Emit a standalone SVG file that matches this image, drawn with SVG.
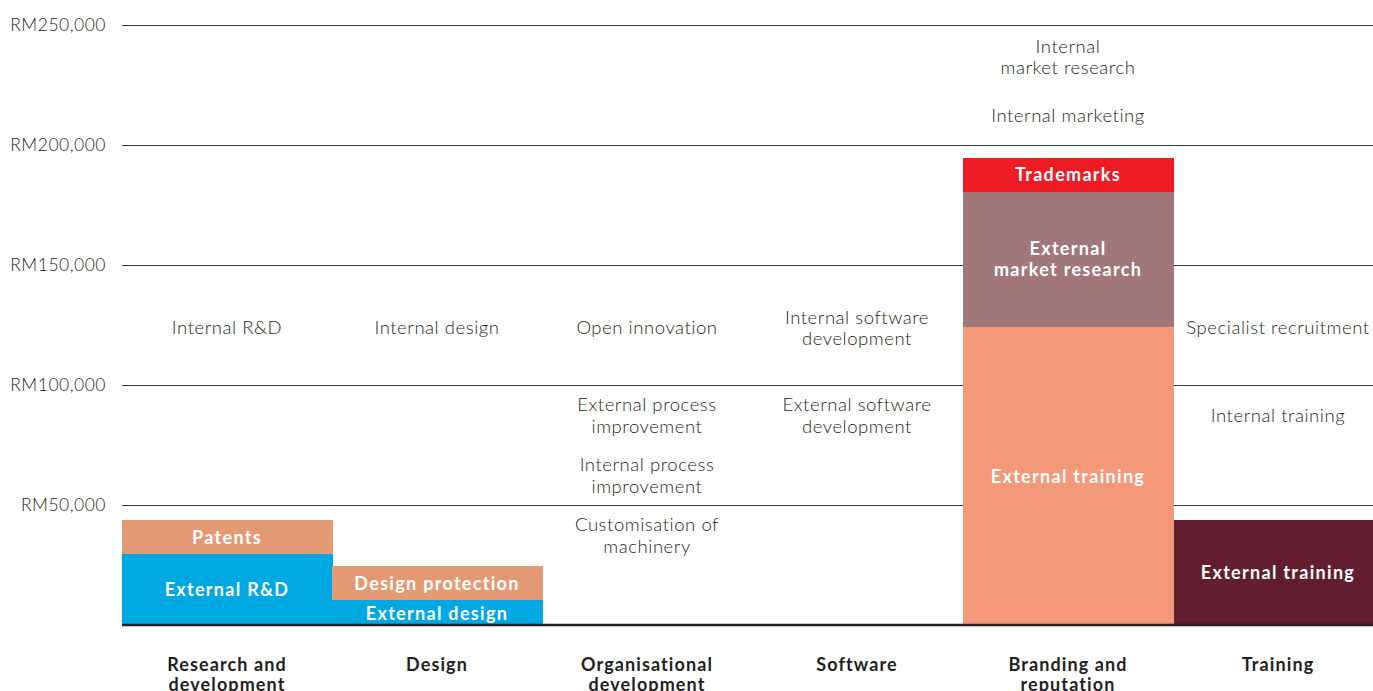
<svg xmlns="http://www.w3.org/2000/svg" width="1373" height="691" viewBox="0 0 1373 691">
<style>
.grid{stroke:#3a3a3a;stroke-width:1.2}
.base{stroke:#231f20;stroke-width:2.6}
.ax{font-family:Lato,"Liberation Sans",sans-serif;font-size:17.5px;font-weight:300;fill:#231f20;text-anchor:end;letter-spacing:0.5px}
.lt{font-family:Lato,"Liberation Sans",sans-serif;font-size:18.5px;font-weight:300;fill:#231f20;text-anchor:middle;letter-spacing:0.55px}
.bl{font-family:Lato,"Liberation Sans",sans-serif;font-size:18px;font-weight:bold;fill:#fff;text-anchor:middle;letter-spacing:1.3px}
.cat{font-family:Lato,"Liberation Sans",sans-serif;font-size:18px;font-weight:bold;fill:#231f20;text-anchor:middle;letter-spacing:1.1px}
</style>
<rect width="1373" height="691" fill="#fff"/>
<g id="axis">
<line class="grid" x1="122" y1="25.5" x2="1373" y2="25.5"/>
<line class="grid" x1="122" y1="145.5" x2="1373" y2="145.5"/>
<line class="grid" x1="122" y1="265.5" x2="1373" y2="265.5"/>
<line class="grid" x1="122" y1="385.5" x2="1373" y2="385.5"/>
<line class="grid" x1="122" y1="505.5" x2="1373" y2="505.5"/>
<text class="ax" x="106" y="31">RM250,000</text>
<text class="ax" x="106" y="151">RM200,000</text>
<text class="ax" x="106" y="271">RM150,000</text>
<text class="ax" x="106" y="391">RM100,000</text>
<text class="ax" x="106" y="511">RM50,000</text>
</g>
<g id="bar-rd">
<rect x="122" y="520" width="211" height="34" fill="#E39A74"/>
<rect x="122" y="554" width="211" height="71" fill="#00A8E1"/>
<text class="bl" x="227" y="544">Patents</text>
<text class="bl" x="227" y="596">External R&amp;D</text>
</g>
<g id="bar-design">
<rect x="332" y="566" width="211" height="34" fill="#E39A74"/>
<rect x="332" y="600" width="211" height="25" fill="#00A8E1"/>
<text class="bl" x="437" y="590">Design protection</text>
<text class="bl" x="437" y="620">External design</text>
</g>
<g id="bar-branding">
<rect x="963" y="158" width="211" height="34" fill="#ED1C24"/>
<rect x="963" y="192" width="211" height="135" fill="#A0787A"/>
<rect x="963" y="327" width="211" height="298" fill="#F4987A"/>
<text class="bl" x="1068" y="181">Trademarks</text>
<text class="bl" x="1068" y="255">External</text>
<text class="bl" x="1068" y="276">market research</text>
<text class="bl" x="1068" y="483">External training</text>
</g>
<g id="bar-training">
<rect x="1174" y="520" width="199" height="105" fill="#621D2F"/>
<text class="bl" x="1278" y="579">External training</text>
</g>
<g id="connectors">
<line class="base" x1="122" y1="625" x2="1373" y2="625"/>
</g>
<g id="labels-rd"><text class="lt" x="227" y="334">Internal R&amp;D</text></g>
<g id="labels-design"><text class="lt" x="437" y="334">Internal design</text></g>
<g id="labels-org">
<text class="lt" x="647" y="334">Open innovation</text>
<text class="lt" x="647" y="411">External process</text>
<text class="lt" x="647" y="433">improvement</text>
<text class="lt" x="647" y="471">Internal process</text>
<text class="lt" x="647" y="493">improvement</text>
<text class="lt" x="647" y="531">Customisation of</text>
<text class="lt" x="647" y="553">machinery</text>
</g>
<g id="labels-software">
<text class="lt" x="857" y="324">Internal software</text>
<text class="lt" x="857" y="345">development</text>
<text class="lt" x="857" y="411">External software</text>
<text class="lt" x="857" y="433">development</text>
</g>
<g id="labels-branding">
<text class="lt" x="1068" y="53">Internal</text>
<text class="lt" x="1068" y="74">market research</text>
<text class="lt" x="1068" y="122">Internal marketing</text>
</g>
<g id="labels-training">
<text class="lt" x="1278" y="334">Specialist recruitment</text>
<text class="lt" x="1278" y="422">Internal training</text>
</g>
<g id="categories">
<text class="cat" x="227" y="671">Research and</text>
<text class="cat" x="227" y="691">development</text>
<text class="cat" x="437" y="671">Design</text>
<text class="cat" x="647" y="671">Organisational</text>
<text class="cat" x="647" y="691">development</text>
<text class="cat" x="857" y="671">Software</text>
<text class="cat" x="1068" y="671">Branding and</text>
<text class="cat" x="1068" y="691">reputation</text>
<text class="cat" x="1278" y="671">Training</text>
</g>
</svg>
